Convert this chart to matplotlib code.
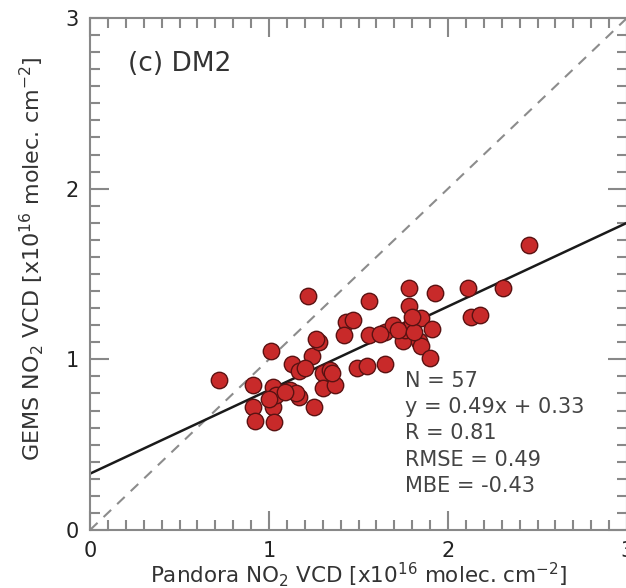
import numpy as np
import matplotlib
matplotlib.use("Agg")
import matplotlib.pyplot as plt
from matplotlib.ticker import MultipleLocator

# Pandora (x) vs GEMS (y) NO2 VCD
pandora = [0.72, 0.91, 0.91, 0.92, 1.01, 1.02, 1.02, 1.03, 1.04, 1.12,
           1.13, 1.17, 1.17, 1.22, 1.24, 1.25, 1.28, 1.30, 1.30, 1.34,
           1.43, 1.47, 1.42, 1.49, 1.55, 1.56, 1.56, 1.65, 1.65, 1.69,
           1.75, 1.76, 1.78, 1.78, 1.80, 1.85, 1.84, 1.85, 1.90, 1.91,
           1.93, 2.11, 2.13, 2.18, 2.31, 2.45, 1.37, 1.20, 1.15, 1.00,
           1.72, 1.81, 1.62, 1.09, 1.26, 1.80, 1.35]
gems = [0.88, 0.85, 0.72, 0.64, 1.05, 0.84, 0.72, 0.63, 0.79, 0.82,
        0.97, 0.93, 0.78, 1.37, 1.02, 0.72, 1.10, 0.92, 0.83, 0.94,
        1.22, 1.23, 1.14, 0.95, 0.96, 1.34, 1.14, 1.16, 0.97, 1.20,
        1.11, 1.17, 1.42, 1.31, 1.21, 1.24, 1.11, 1.08, 1.01, 1.18,
        1.39, 1.42, 1.25, 1.26, 1.42, 1.67, 0.85, 0.95, 0.80, 0.77,
        1.17, 1.16, 1.15, 0.81, 1.12, 1.25, 0.92]

slope, intercept = 0.49, 0.33
stats = ["N = 57", "y = 0.49x + 0.33", "R = 0.81", "RMSE = 0.49", "MBE = -0.43"]

fig = plt.figure(figsize=(6.26, 5.88), dpi=100)
ax = fig.add_axes([90/626, 58/588, 537/626, 512/588])

xx = np.array([0, 3])
ax.plot(xx, xx, '--', color='#8c8c8c', lw=1.5, dashes=(5, 4))
ax.plot(xx, slope*xx + intercept, '-', color='#1a1a1a', lw=1.8)
ax.scatter(pandora, gems, s=140, c='#c82a2a', edgecolors='#5a1212', linewidths=1.0, zorder=3)

ax.set_xlim(0, 3)
ax.set_ylim(0, 3)
ax.xaxis.set_major_locator(MultipleLocator(1))
ax.yaxis.set_major_locator(MultipleLocator(1))
ax.xaxis.set_minor_locator(MultipleLocator(0.1))
ax.yaxis.set_minor_locator(MultipleLocator(0.1))
ax.tick_params(which='both', direction='in', top=True, right=True, color='#888888', width=1.5)
ax.tick_params(which='major', length=14, labelsize=15, pad=8, labelcolor='#222222')
ax.tick_params(which='minor', length=7)
for sp in ax.spines.values():
    sp.set_color('#888888')
    sp.set_linewidth(1.5)

ax.set_xlabel(r'Pandora NO$_2$ VCD [x10$^{16}$ molec. cm$^{-2}$]', fontsize=15.5, color='#333333', labelpad=-1)
ax.set_ylabel(r'GEMS NO$_2$ VCD [x10$^{16}$ molec. cm$^{-2}$]', fontsize=16, color='#333333')
ax.yaxis.set_label_coords(-0.082, 0.53)

ax.text(0.21, 2.73, '(c) DM2', fontsize=19, color='#333333', va='center')
ax.text(1.76, 0.93, "\n".join(stats), fontsize=15, color='#444444', va='top', linespacing=1.38)

fig.savefig('out.png', dpi=100)
